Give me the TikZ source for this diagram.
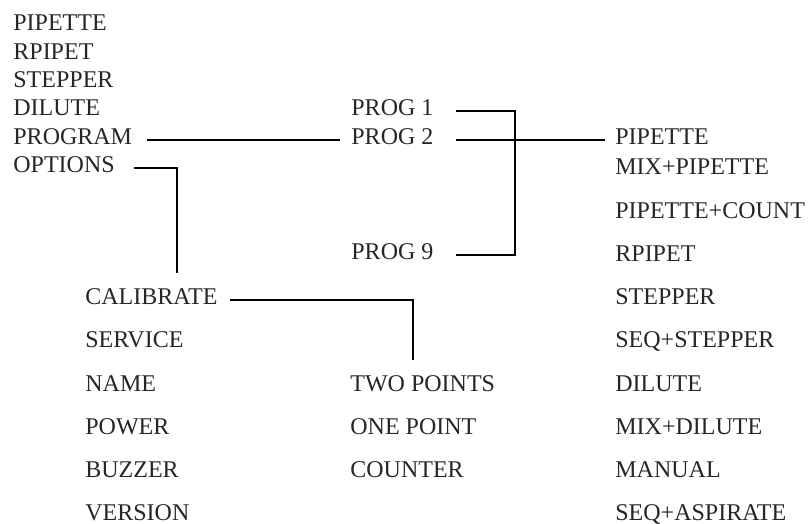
\documentclass[tikz,border=0pt]{standalone}
\usepackage{fontspec}
\setmainfont{Liberation Serif}
\usepackage{tikz}
\usetikzlibrary{calc}

\begin{document}
\begin{tikzpicture}[x=0.5pt, y=-0.5pt,
    every node/.style={font=\fontsize{12}{14}\selectfont, anchor=west,
      inner sep=0pt, text height=8pt, text depth=3pt, text=black!85},
    link/.style={line width=1.4pt, line cap=butt}]
  \useasboundingbox (0,0) rectangle (811,524);
  % main menu
  \node (mPip) at (13,26) {PIPETTE};
  \node (mRpi) at (13,55) {RPIPET};
  \node (mSte) at (13,83) {STEPPER};
  \node (mDil) at (13,111) {DILUTE};
  \node (mPrg) at (13,140) {PROGRAM};
  \node (mOpt) at (13,168) {OPTIONS};
  % program slots
  \node (p1) at (351,111) {PROG 1};
  \node (p2) at (351,140) {PROG 2};
  \node (p9) at (351,255) {PROG 9};
  % program modes
  \node (rPip) at (615,140) {PIPETTE};
  \node (rMix) at (615,170) {MIX+PIPETTE};
  \node (rCnt) at (615,214) {PIPETTE+COUNT};
  \node (rRpi) at (615,257) {RPIPET};
  \node (rSte) at (615,300) {STEPPER};
  \node (rSeq) at (615,343) {SEQ+STEPPER};
  \node (rDil) at (615,387) {DILUTE};
  \node (rMxd) at (615,430) {MIX+DILUTE};
  \node (rMan) at (615,473) {MANUAL};
  \node (rAsp) at (615,516) {SEQ+ASPIRATE};
  % options menu
  \node (oCal) at (85,300) {CALIBRATE};
  \node (oSer) at (85,343) {SERVICE};
  \node (oNam) at (85,387) {NAME};
  \node (oPow) at (85,430) {POWER};
  \node (oBuz) at (85,473) {BUZZER};
  \node (oVer) at (85,516) {VERSION};
  % calibration modes
  \node (cTwo) at (350,387) {TWO POINTS};
  \node (cOne) at (350,430) {ONE POINT};
  \node (cCnt) at (350,473) {COUNTER};
  % bend points
  \coordinate (bus) at (515,0);
  \coordinate (drop) at (177,0);
  \coordinate (tap) at (413,0);
  % connectors
  \draw[link, shorten <=7.5pt, shorten >=5.5pt] (mPrg.east) -- (p2.west);
  \draw[link, shorten <=11pt, shorten >=5pt] (p2.east) -- (rPip.west);
  \draw[link, shorten <=11pt, shorten >=11pt]
        (p1.east) -- (p1.east -| bus) -- (p9.east -| bus) -- (p9.east);
  \draw[link, shorten <=9.5pt, shorten >=8pt] (mOpt.east) -| (drop |- oCal.north);
  \draw[link, shorten <=6pt, shorten >=8pt] (oCal.east) -| (tap |- cTwo.north);
\end{tikzpicture}
\end{document}
